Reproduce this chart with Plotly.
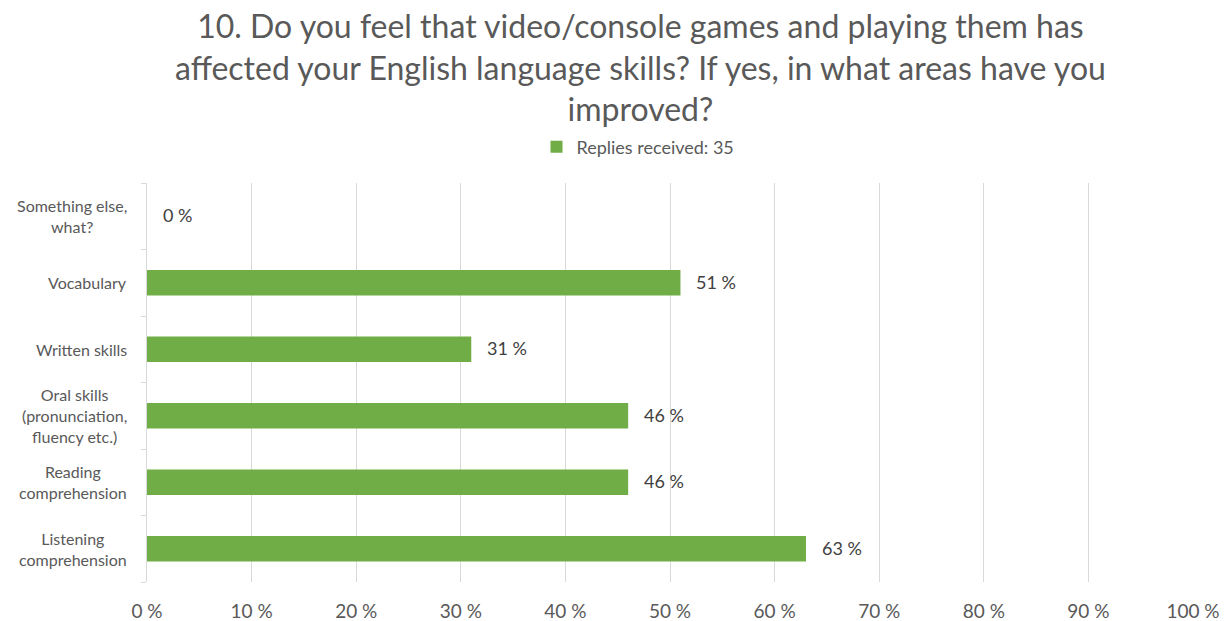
import plotly.graph_objects as go

# Survey answers, listed bottom to top
categories = [
    "Listening<br>comprehension",
    "Reading<br>comprehension",
    "Oral skills<br>(pronunciation,<br>fluency etc.)",
    "Written skills",
    "Vocabulary",
    "Something else,<br>what?",
]
percent = [63, 46, 46, 31, 51, 0]
x_ticks = list(range(0, 101, 10))
x_tick_labels = [f"{v} %" for v in x_ticks]
series_name = "Replies received: 35"
title_lines = [
    "10. Do you feel that video/console games and playing them has",
    "affected your English language skills? If yes, in what areas have you",
    "improved?",
]

FONT = "Lato, Carlito, Calibri, sans-serif"
GRAY = "#595959"
GREEN = "#70ad47"

W, H = 1228, 621
M_L, M_R, M_T, M_B = 147, 35, 183, 39
PLOT_W = W - M_L - M_R
PLOT_H = H - M_T - M_B


def px_to_paper_x(px):
    return (px - M_L) / PLOT_W


def px_to_paper_y(py):
    return 1 + (M_T - py) / PLOT_H


fig = go.Figure()
fig.add_trace(go.Bar(
    y=categories,
    x=percent,
    orientation="h",
    name=series_name,
    marker=dict(color=GREEN, line=dict(width=0)),
    showlegend=True,
    hoverinfo="x+y",
))

annotations = []
# value labels right of each bar
for cat, val in zip(categories, percent):
    annotations.append(dict(
        x=val, y=cat, xref="x", yref="y",
        text=f"{val} %", showarrow=False,
        xanchor="left", yanchor="middle", xshift=14, yshift=1,
        font=dict(family=FONT, size=18, color="#404040"),
    ))
# category labels, lines centred within a right-aligned block
for cat in categories:
    annotations.append(dict(
        x=0, y=cat, xref="paper", yref="y",
        text=cat, showarrow=False,
        xanchor="right", yanchor="middle", xshift=-18, align="center",
        font=dict(family=FONT, size=16, color=GRAY),
    ))
# three-line heading
annotations.append(dict(
    x=px_to_paper_x(640), y=px_to_paper_y(67), xref="paper", yref="paper",
    text="<br>".join(title_lines), showarrow=False,
    xanchor="center", yanchor="middle", align="center",
    font=dict(family=FONT, size=32, color=GRAY),
))

fig.update_layout(
    width=W, height=H,
    margin=dict(l=M_L, r=M_R, t=M_T, b=M_B),
    paper_bgcolor="white", plot_bgcolor="white",
    legend=dict(
        orientation="h", x=px_to_paper_x(638), xanchor="center",
        y=px_to_paper_y(147), yanchor="middle",
        font=dict(family=FONT, size=18, color=GRAY),
        itemwidth=30,
    ),
    bargap=0.62,
    xaxis=dict(
        range=[0, 100], tickvals=x_ticks, ticktext=x_tick_labels,
        showgrid=True, gridcolor="#d9d9d9", gridwidth=1,
        zeroline=False, showline=False, ticks="",
        ticklabelstandoff=16, automargin=False,
        tickfont=dict(family=FONT, size=19, color=GRAY),
        fixedrange=True,
    ),
    yaxis=dict(
        categoryorder="array", categoryarray=categories,
        showticklabels=False, showgrid=False, zeroline=False,
        showline=True, linecolor="#d9d9d9", linewidth=1,
        ticks="outside", tickson="boundaries", ticklen=5, tickcolor="#d9d9d9",
        automargin=False, fixedrange=True,
    ),
    annotations=annotations,
)

fig.write_html("out.html")
